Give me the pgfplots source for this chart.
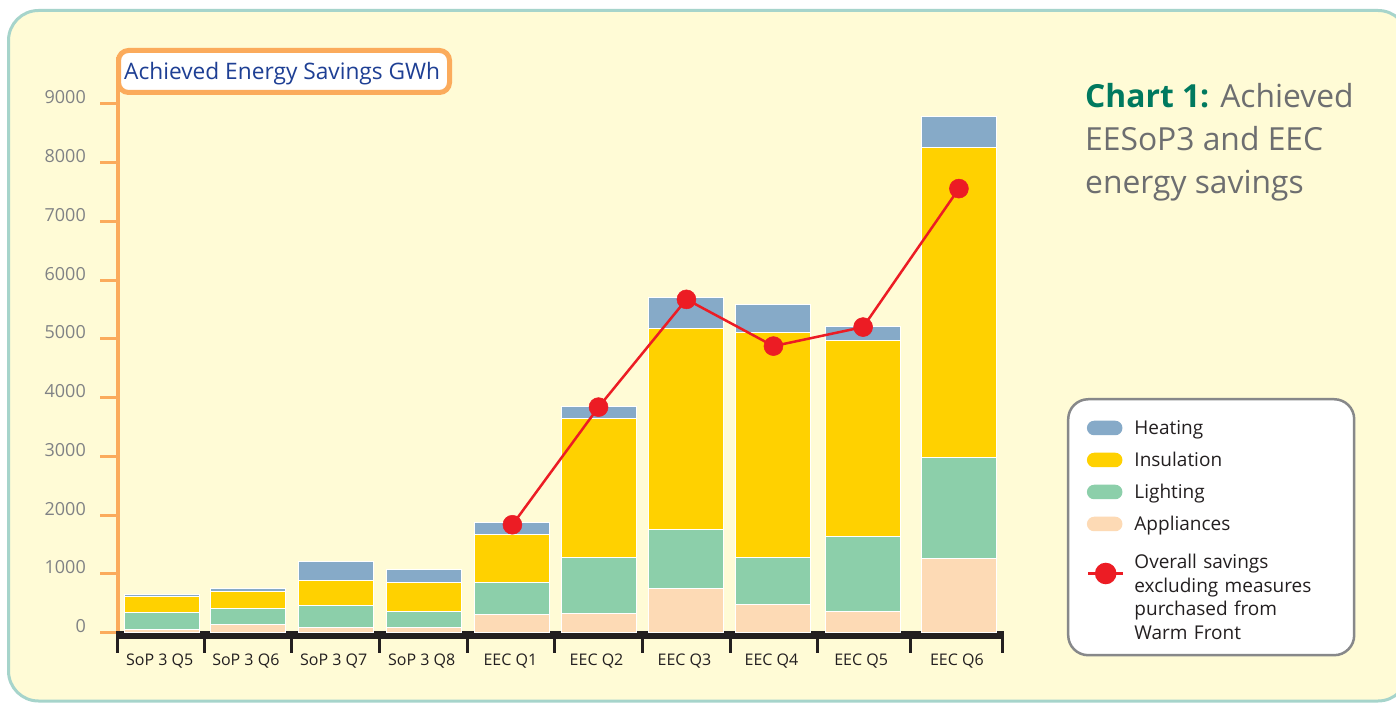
\documentclass[border=0pt]{standalone}
\usepackage{pgfplots}
\usepackage{pgfplotstable}
\pgfplotsset{compat=1.18}
\usepackage{fontspec}
\setmainfont{Open Sans}
\definecolor{bgyellow}{HTML}{FFFBD6}
\definecolor{frameteal}{HTML}{A6D4CB}
\definecolor{orangeax}{HTML}{FBAB5C}
\definecolor{heatblue}{HTML}{86AAC8}
\definecolor{insyellow}{HTML}{FFD100}
\definecolor{lightgreen}{HTML}{8CCFAA}
\definecolor{applpeach}{HTML}{FDDAB5}
\definecolor{redline}{HTML}{EC1C24}
\definecolor{ticgray}{HTML}{808285}
\definecolor{textdark}{HTML}{231F20}
\definecolor{leggray}{HTML}{87888A}
\definecolor{titleblue}{HTML}{1E3F94}
\definecolor{chartgreen}{HTML}{00795F}
\definecolor{titlegray}{HTML}{6D6E70}

\pgfplotstableread{
x     appl  light insul heat
0     50    290   270   40
0.98  135   275   290   45
1.98  90    370   425   320
2.98  90    273   490   220
3.99  307   550   813   199
4.97  318   965   2357  215
5.97  744   1006  3424  528
6.96  472   811   3833  472
7.98  358   1283  3333  244
9.07  1255  1721  5281  522
}\bartable

\pgfplotstableread{
x     total
3.99  1835
4.97  3838
5.97  5673
6.96  4877
7.98  5201
9.07  7559
}\linetable

\pgfplotsset{
  pillimg/.style={legend image code/.code={\fill[#1, rounded corners=6pt] (0pt,1pt) rectangle (33pt,13pt);}},
  lineimg/.style={legend image code/.code={\draw[redline, line width=2.5pt] (0pt,-5.3pt) -- (35pt,-5.3pt); \fill[redline] (17.5pt,-5.3pt) circle (9.5pt);}},
  common/.style={
    at={(117.5pt,69.5pt)}, anchor=south west, scale only axis,
    width=886.5pt, height=575.5pt,
    xmin=-0.503, xmax=9.583, ymin=0, ymax=9800, clip=false,
  }
}

\begin{document}
\begin{tikzpicture}[x=1pt,y=1pt]
\path[use as bounding box] (0,0) rectangle (1396,702);
\clip (0,0) rectangle (1396,702);
\fill[white] (0,0) rectangle (1396,702);
\draw[frameteal, line width=3pt, fill=bgyellow, rounded corners=30pt] (8.5,1) rectangle (1408,691.5);

\begin{axis}[common,
  ybar stacked, bar width=0.853,
  axis x line*=bottom, axis y line*=left,
  x axis line style={draw=none},
  y axis line style={draw=orangeax, line width=4pt, -},
  major tick length=0pt,
  xtick={0,0.98,1.98,2.98,3.99,4.97,5.97,6.96,7.98,9.07},
  xticklabels={SoP 3 Q5,SoP 3 Q6,SoP 3 Q7,SoP 3 Q8,EEC Q1,EEC Q2,EEC Q3,EEC Q4,EEC Q5,EEC Q6},
  xticklabel style={anchor=base, inner sep=0pt, yshift=-32.5pt, xshift=-2pt, text=textdark, font=\fontsize{16}{19}\selectfont},
  ytick={0,1000,2000,3000,4000,5000,6000,7000,8000,9000},
  yticklabels={0,1000,2000,3000,4000,5000,6000,7000,8000,9000},
  yticklabel style={anchor=base east, inner sep=0pt, xshift=-31.5pt, text=ticgray, font=\fontsize{18}{21}\selectfont},
]
\addplot[fill=applpeach, draw=white, line width=1pt] table[x=x, y=appl] {\bartable};
\addplot[fill=lightgreen, draw=white, line width=1pt] table[x=x, y=light] {\bartable};
\addplot[fill=insyellow, draw=white, line width=1pt] table[x=x, y=insul] {\bartable};
\addplot[fill=heatblue, draw=white, line width=1pt] table[x=x, y=heat] {\bartable};
\draw[line width=8pt, textdark] ([yshift=-2.5pt]axis cs:-0.52,0) -- ([yshift=-2.5pt]axis cs:9.58,0);
\pgfplotsinvokeforeach{-0.505,0.485,1.48,2.476,3.48,4.47,5.47,6.47,7.46,8.52,9.565}{
  \draw[line width=3pt, textdark] ([yshift=-3pt]axis cs:#1,0) -- ([yshift=-20.5pt]axis cs:#1,0);
}
\pgfplotsinvokeforeach{0,1000,2000,3000,4000,5000,6000,7000,8000,9000}{
  \draw[orangeax, line width=3pt] (axis cs:-0.503,#1) -- ++(-18pt,0pt);
}
\end{axis}

\begin{axis}[common, hide axis,
  legend style={at={(1.071,0.4075)}, anchor=north west,
    draw=leggray, line width=2.5pt, fill=white, rounded corners=20pt,
    inner xsep=18.75pt, inner ysep=11.75pt, row sep=0pt, column sep=8pt,
    cells={anchor=base west, text width=199pt, align=left, inner sep=0pt, text depth=5pt, text=textdark, font=\fontsize{19}{23}\selectfont}},
]
\addlegendimage{pillimg=heatblue}
\addlegendentry{\rule{0pt}{22pt}Heating}
\addlegendimage{pillimg=insyellow}
\addlegendentry{\rule{0pt}{26.5pt}Insulation}
\addlegendimage{pillimg=lightgreen}
\addlegendentry{\rule{0pt}{26.5pt}Lighting}
\addlegendimage{pillimg=applpeach}
\addlegendentry{\rule{0pt}{26.5pt}Appliances}
\addlegendimage{lineimg}
\addlegendentry{\rule{0pt}{31.7pt}Overall savings}
\addlegendimage{empty legend}
\addlegendentry{\rule{0pt}{6.2pt}\smash{excluding measures}}
\addlegendimage{empty legend}
\addlegendentry{\rule{0pt}{18pt}\smash{purchased from}}
\addlegendimage{empty legend}
\addlegendentry{\rule{0pt}{18.5pt}\smash{Warm Front}}
\addplot[redline, line width=2.5pt, mark=*, mark size=9.5pt, mark options={line width=0.5pt, fill=redline}, forget plot] table[x=x, y=total] {\linetable};
\end{axis}

\draw[orangeax, line width=5pt, fill=white, rounded corners=10pt] (118.5,609.5) rectangle (449.5,651.5);
\node[anchor=base west, inner sep=0pt, text=titleblue, font=\fontsize{22.7}{26}\selectfont] at (124,622.7) {Achieved Energy Savings GWh};

\node[anchor=base west, inner sep=0pt, text=titlegray, font=\fontsize{31.8}{43}\selectfont] at (1085,594) {\textcolor{chartgreen}{\bfseries Chart 1:} Achieved};
\node[anchor=base west, inner sep=0pt, text=titlegray, font=\fontsize{31.8}{43}\selectfont] at (1085,551) {EESoP3 and EEC};
\node[anchor=base west, inner sep=0pt, text=titlegray, font=\fontsize{31.8}{43}\selectfont] at (1085,508) {energy savings};
\end{tikzpicture}
\end{document}
